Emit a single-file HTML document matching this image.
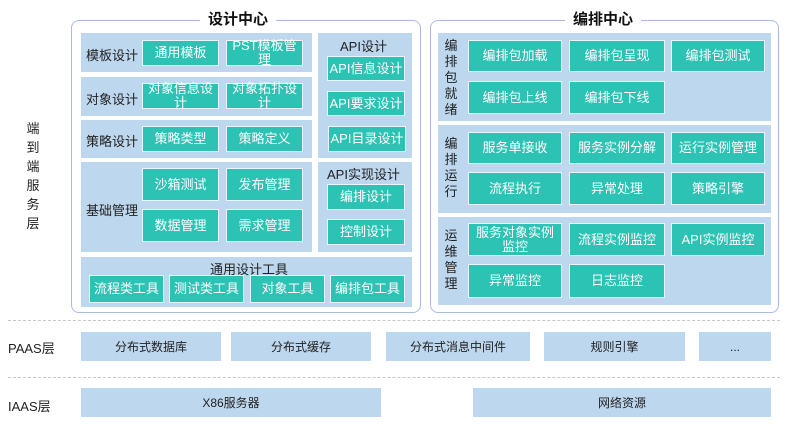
<!DOCTYPE html>
<html><head><meta charset="utf-8"><style>
body{margin:0;width:804px;height:432px;background:#fff;position:relative;overflow:hidden;font-family:"Liberation Sans","Noto Sans CJK SC",sans-serif;}
div{position:absolute;box-sizing:border-box;}
.fr{border:1.5px solid #a9bde3;border-radius:8px;}
.tt{background:#fff;font-weight:bold;font-size:15px;padding:0 8px;line-height:18px;color:#111;}
.bd{background:#bdd7ee;}
.b{background:#2cc2b4;border:1.5px solid #e8f6f5;color:#fff;font-size:13px;display:flex;align-items:center;justify-content:center;text-align:center;line-height:14px;}
.l{font-size:13px;color:#222;white-space:nowrap;}
.p{background:#bdd7ee;font-size:12px;color:#222;display:flex;align-items:center;justify-content:center;}
.dash{border-top:1.5px dashed #c8c8c8;left:8px;width:772px;height:0;}
.v{font-size:13px;color:#222;line-height:19px;width:16px;text-align:center;}
</style></head><body>
<div class="v" style="left:25px;top:119px;">端到端服务层</div>

<div class="fr" style="left:71px;top:20px;width:350px;height:293px;"></div>
<div class="tt" style="left:200px;top:11px;">设计中心</div>
<div class="bd" style="left:81px;top:33px;width:231px;height:39px;"></div>
<div class="bd" style="left:81px;top:77px;width:231px;height:39px;"></div>
<div class="bd" style="left:81px;top:120px;width:231px;height:38px;"></div>
<div class="bd" style="left:81px;top:162px;width:231px;height:90px;"></div>
<div class="bd" style="left:318px;top:33px;width:94px;height:125px;"></div>
<div class="bd" style="left:318px;top:162px;width:94px;height:90px;"></div>
<div class="bd" style="left:81px;top:257px;width:331px;height:50px;"></div>
<div class="l" style="left:86px;top:45px;">模板设计</div>
<div class="l" style="left:86px;top:89px;">对象设计</div>
<div class="l" style="left:86px;top:131px;">策略设计</div>
<div class="l" style="left:86px;top:200px;">基础管理</div>
<div class="l" style="left:340px;top:36px;">API设计</div>
<div class="l" style="left:327px;top:164px;">API实现设计</div>
<div class="l" style="left:210px;top:259px;">通用设计工具</div>
<div class="b" style="left:142px;top:40px;width:77px;height:26px;">通用模板</div>
<div class="b" style="left:226px;top:40px;width:77px;height:26px;">PST模板管理</div>
<div class="b" style="left:142px;top:83px;width:77px;height:26px;">对象信息设计</div>
<div class="b" style="left:226px;top:83px;width:77px;height:26px;">对象拓扑设计</div>
<div class="b" style="left:142px;top:126px;width:77px;height:26px;">策略类型</div>
<div class="b" style="left:226px;top:126px;width:77px;height:26px;">策略定义</div>
<div class="b" style="left:142px;top:168px;width:77px;height:33px;">沙箱测试</div>
<div class="b" style="left:226px;top:168px;width:77px;height:33px;">发布管理</div>
<div class="b" style="left:142px;top:209px;width:77px;height:33px;">数据管理</div>
<div class="b" style="left:226px;top:209px;width:77px;height:33px;">需求管理</div>
<div class="b" style="left:327px;top:56px;width:78px;height:25px;">API信息设计</div>
<div class="b" style="left:327px;top:91px;width:78px;height:25px;">API要求设计</div>
<div class="b" style="left:328px;top:126px;width:78px;height:26px;">API目录设计</div>
<div class="b" style="left:327px;top:184px;width:78px;height:26px;">编排设计</div>
<div class="b" style="left:327px;top:219px;width:78px;height:26px;">控制设计</div>
<div class="b" style="left:89px;top:275px;width:75px;height:28px;">流程类工具</div>
<div class="b" style="left:169px;top:275px;width:75px;height:28px;">测试类工具</div>
<div class="b" style="left:250px;top:275px;width:75px;height:28px;">对象工具</div>
<div class="b" style="left:330px;top:275px;width:75px;height:28px;">编排包工具</div>

<div class="fr" style="left:430px;top:20px;width:349px;height:293px;"></div>
<div class="tt" style="left:565px;top:11px;">编排中心</div>
<div class="bd" style="left:438px;top:33px;width:333px;height:88px;"></div>
<div class="bd" style="left:438px;top:125px;width:333px;height:88px;"></div>
<div class="bd" style="left:438px;top:217px;width:333px;height:88px;"></div>
<div class="v" style="left:443px;top:38px;line-height:16px;">编排包就绪</div>
<div class="v" style="left:443px;top:136px;line-height:16px;">编排运行</div>
<div class="v" style="left:443px;top:228px;line-height:16px;">运维管理</div>
<div class="b" style="left:468px;top:40px;width:94px;height:32px;">编排包加载</div>
<div class="b" style="left:569px;top:40px;width:96px;height:32px;">编排包呈现</div>
<div class="b" style="left:671px;top:40px;width:94px;height:32px;">编排包测试</div>
<div class="b" style="left:468px;top:81px;width:94px;height:33px;">编排包上线</div>
<div class="b" style="left:569px;top:81px;width:96px;height:33px;">编排包下线</div>
<div class="b" style="left:468px;top:132px;width:94px;height:32px;">服务单接收</div>
<div class="b" style="left:569px;top:132px;width:96px;height:32px;">服务实例分解</div>
<div class="b" style="left:671px;top:132px;width:94px;height:32px;">运行实例管理</div>
<div class="b" style="left:468px;top:172px;width:94px;height:33px;">流程执行</div>
<div class="b" style="left:569px;top:172px;width:96px;height:33px;">异常处理</div>
<div class="b" style="left:671px;top:172px;width:94px;height:33px;">策略引擎</div>
<div class="b" style="left:468px;top:223px;width:94px;height:33px;">服务对象实例<br>监控</div>
<div class="b" style="left:569px;top:223px;width:96px;height:33px;">流程实例监控</div>
<div class="b" style="left:671px;top:223px;width:94px;height:33px;">API实例监控</div>
<div class="b" style="left:468px;top:264px;width:94px;height:34px;">异常监控</div>
<div class="b" style="left:569px;top:264px;width:96px;height:34px;">日志监控</div>

<div class="dash" style="top:320px;"></div>
<div class="dash" style="top:377px;"></div>
<div class="l" style="left:8px;top:338px;">PAAS层</div>
<div class="l" style="left:8px;top:396px;">IAAS层</div>
<div class="p" style="left:81px;top:332px;width:140px;height:29px;">分布式数据库</div>
<div class="p" style="left:231px;top:332px;width:140px;height:29px;">分布式缓存</div>
<div class="p" style="left:386px;top:332px;width:144px;height:29px;">分布式消息中间件</div>
<div class="p" style="left:544px;top:332px;width:141px;height:29px;">规则引擎</div>
<div class="p" style="left:699px;top:332px;width:72px;height:29px;">...</div>
<div class="p" style="left:81px;top:388px;width:300px;height:29px;">X86服务器</div>
<div class="p" style="left:473px;top:388px;width:298px;height:29px;">网络资源</div>
</body></html>
